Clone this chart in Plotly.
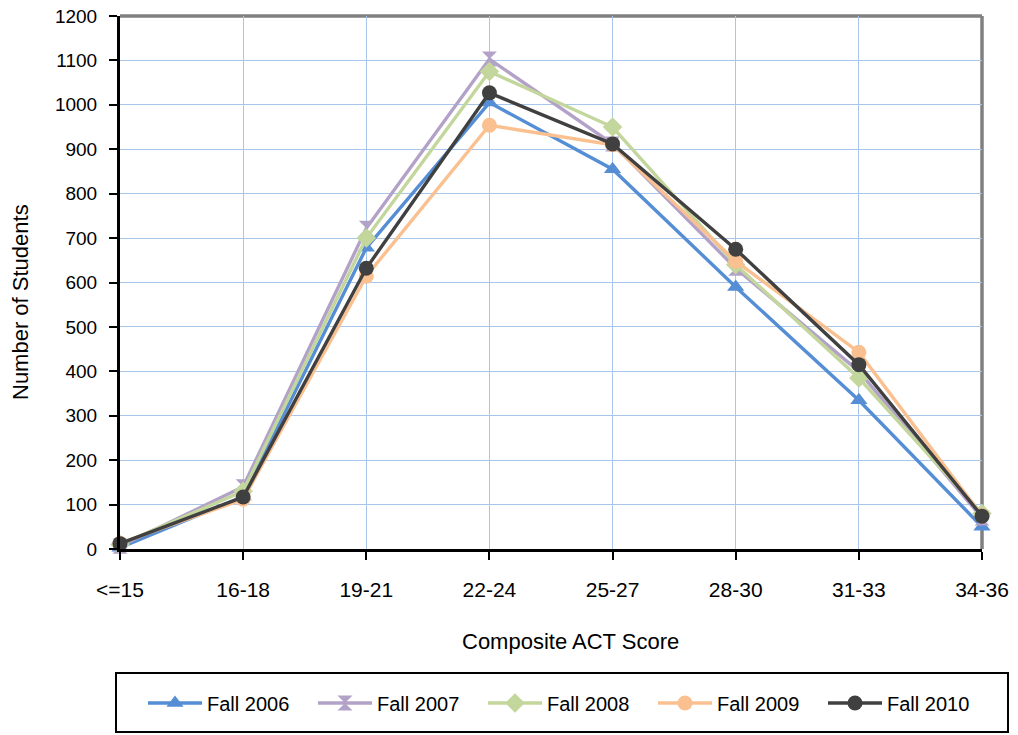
import plotly.graph_objects as go

categories = ["<=15", "16-18", "19-21", "22-24", "25-27", "28-30", "31-33", "34-36"]
fall_2006 = [3, 118, 678, 1005, 855, 590, 335, 50]
fall_2007 = [6, 140, 722, 1103, 912, 632, 400, 70]
fall_2008 = [10, 130, 700, 1075, 950, 640, 385, 80]
fall_2009 = [13, 112, 614, 954, 910, 648, 443, 75]
fall_2010 = [12, 117, 632, 1027, 912, 675, 415, 74]
y_ticks = [0, 100, 200, 300, 400, 500, 600, 700, 800, 900, 1000, 1100, 1200]

series = [
    ("Fall 2006", fall_2006, "#558ed5", "triangle-up"),
    ("Fall 2007", fall_2007, "#b3a2c7", "hourglass"),
    ("Fall 2008", fall_2008, "#c3d69b", "diamond"),
    ("Fall 2009", fall_2009, "#fac090", "circle"),
    ("Fall 2010", fall_2010, "#404040", "circle"),
]

fig = go.Figure()
for name, vals, color, sym in series:
    fig.add_trace(go.Scatter(
        x=categories, y=vals, name=name, mode="lines+markers",
        line=dict(color=color, width=3.4),
        marker=dict(symbol=sym, size=15, color=color),
        cliponaxis=False,
    ))

W, H = 1018, 735
PL, PR, PT, PB = 120, 982, 16, 549  # plot area in window pixels
L, R, T, B = PL, W - PR, PT, H - PB
pw, ph = W - L - R, H - T - B

def px_x(px):
    return (px - PL) / pw

def px_y(py):
    return (PB - py) / ph

font = "Liberation Sans, Arial, sans-serif"

fig.update_layout(
    width=W, height=H,
    margin=dict(l=L, r=R, t=T, b=B, autoexpand=False),
    paper_bgcolor="white", plot_bgcolor="white",
    font=dict(family=font, size=19, color="black"),
    showlegend=True,
    legend=dict(
        orientation="h", x=px_x(143), y=px_y(703), xanchor="left", yanchor="middle",
        entrywidth=101, entrywidthmode="pixels", font=dict(size=20),
        bgcolor="rgba(0,0,0,0)", itemwidth=54,
    ),
    xaxis=dict(
        type="category", range=[0, 7], showgrid=True, gridcolor="#a9c6ec", gridwidth=1,
        showline=True, linecolor="black", linewidth=3,
        ticks="outside", ticklen=8, tickwidth=2, tickcolor="black",
        ticklabelstandoff=12, tickfont=dict(size=21), zeroline=False,
        ticklabeloverflow="allow",
    ),
    yaxis=dict(
        range=[0, 1200], tickmode="array", tickvals=y_ticks,
        showgrid=True, gridcolor="#a9c6ec", gridwidth=1,
        showline=True, linecolor="black", linewidth=3,
        ticks="outside", ticklen=8, tickwidth=2, tickcolor="black",
        ticklabelstandoff=8, tickfont=dict(size=19), zeroline=False,
        ticklabeloverflow="allow",
    ),
    shapes=[
        dict(type="line", xref="paper", yref="paper", x0=0, x1=1, y0=1, y1=1,
             line=dict(color="#808080", width=3.5), layer="between"),
        dict(type="line", xref="paper", yref="paper", x0=1, x1=1, y0=0, y1=1,
             line=dict(color="#808080", width=3.5), layer="between"),
        dict(type="rect", xref="paper", yref="paper",
             x0=px_x(116), x1=px_x(1008), y0=px_y(732), y1=px_y(673),
             line=dict(color="black", width=2), fillcolor="rgba(0,0,0,0)"),
    ],
    annotations=[
        dict(text="Composite ACT Score", xref="paper", yref="paper",
             x=px_x(570), y=px_y(641), showarrow=False, font=dict(size=22),
             xanchor="center", yanchor="middle"),
        dict(text="Number of Students", xref="paper", yref="paper",
             x=px_x(20), y=px_y(302), showarrow=False, font=dict(size=22),
             textangle=-90, xanchor="center", yanchor="middle"),
    ],
)

fig.write_html(
    "out.html",
    config={"displayModeBar": False},
    post_script="document.body.style.margin='0';document.body.style.overflow='hidden';",
)
